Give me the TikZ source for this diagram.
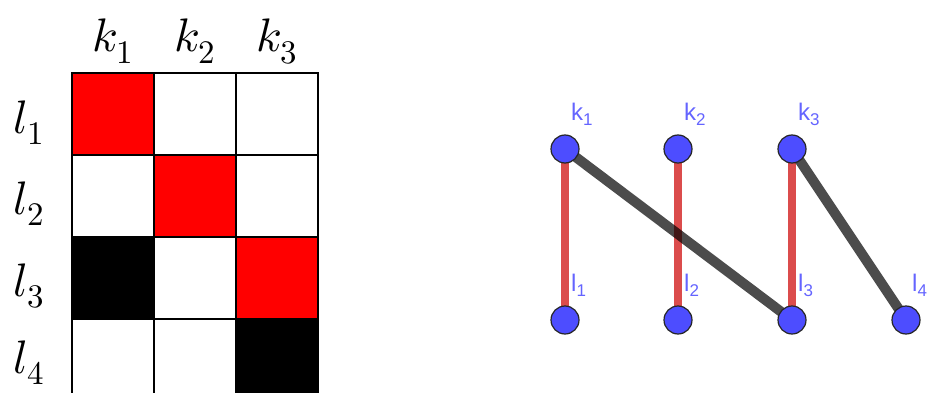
\documentclass[tikz,border=0pt]{standalone}
\usepackage{fontspec}
\usepackage{unicode-math}
\setmathfont{Latin Modern Math}
\newfontfamily\gfont{Liberation Sans}
\definecolor{vblue}{RGB}{77,77,255}
\definecolor{lblue}{RGB}{100,100,255}
\definecolor{cellred}{RGB}{255,0,0}
\tikzset{
  cell/.style={draw=black, line width=1.3pt, minimum width=82pt, minimum height=82pt, inner sep=0pt, outer sep=0pt},
  mlab/.style={font=\fontsize{47}{52}\selectfont, inner sep=0pt, anchor=base},
  vert/.style={circle, fill=vblue, draw=black!85, line width=1.2pt, minimum size=28pt, inner sep=0pt},
  vlab/.style={font=\gfont\fontsize{24}{28}\selectfont, text=lblue, inner sep=0pt, anchor=base west},
  redge/.style={draw={rgb,255:red,204;green,0;blue,0}, draw opacity=0.7, line width=8pt},
  bedge/.style={draw=black, draw opacity=0.7, line width=10pt},
}
\newcommand{\gsub}[2]{#1\raisebox{-5pt}{\fontsize{17}{20}\selectfont #2}}
\begin{document}
\begin{tikzpicture}[x=1pt, y=-1pt]
\useasboundingbox (0,0) rectangle (928,393);
% grid
\node[cell, fill=cellred] (c11) at (113,114) {};
\node[cell] (c12) at (195,114) {};
\node[cell] (c13) at (277,114) {};
\node[cell] (c21) at (113,196) {};
\node[cell, fill=cellred] (c22) at (195,196) {};
\node[cell] (c23) at (277,196) {};
\node[cell, fill=black] (c31) at (113,278) {};
\node[cell] (c32) at (195,278) {};
\node[cell, fill=cellred] (c33) at (277,278) {};
\node[cell] (c41) at (113,360) {};
\node[cell] (c42) at (195,360) {};
\node[cell, fill=black] (c43) at (277,360) {};
% labels
\node[mlab] (hk1) at (113,52) {$k_1$};
\node[mlab] (hk2) at (195,52) {$k_2$};
\node[mlab] (hk3) at (277,52) {$k_3$};
\node[mlab] (hl1) at (29,133) {$l_1$};
\node[mlab] (hl2) at (29,214) {$l_2$};
\node[mlab] (hl3) at (29,296) {$l_3$};
\node[mlab] (hl4) at (29,373) {$l_4$};
% graph
\coordinate (pk1) at (565,149);
\coordinate (pk2) at (678,149);
\coordinate (pk3) at (792,149);
\coordinate (pl1) at (565,320);
\coordinate (pl2) at (678,320);
\coordinate (pl3) at (792,320);
\coordinate (pl4) at (906,320);
\draw[redge] (pk1) -- (pl1);
\draw[redge] (pk2) -- (pl2);
\draw[redge] (pk3) -- (pl3);
\draw[bedge] (pk1) -- (pl3);
\draw[bedge] (pk3) -- (pl4);
\node[vert] (k1) at (pk1) {};
\node[vert] (k2) at (pk2) {};
\node[vert] (k3) at (pk3) {};
\node[vert] (l1) at (pl1) {};
\node[vert] (l2) at (pl2) {};
\node[vert] (l3) at (pl3) {};
\node[vert] (l4) at (pl4) {};
\node[vlab] (tk1) at (571,121) {\gsub{k}{1}};
\node[vlab] (tk2) at (684,121) {\gsub{k}{2}};
\node[vlab] (tk3) at (798,121) {\gsub{k}{3}};
\node[vlab] (tl1) at (571,291) {\gsub{l}{1}};
\node[vlab] (tl2) at (684,291) {\gsub{l}{2}};
\node[vlab] (tl3) at (798,291) {\gsub{l}{3}};
\node[vlab] (tl4) at (912,291) {\gsub{l}{4}};
\end{tikzpicture}
\end{document}
